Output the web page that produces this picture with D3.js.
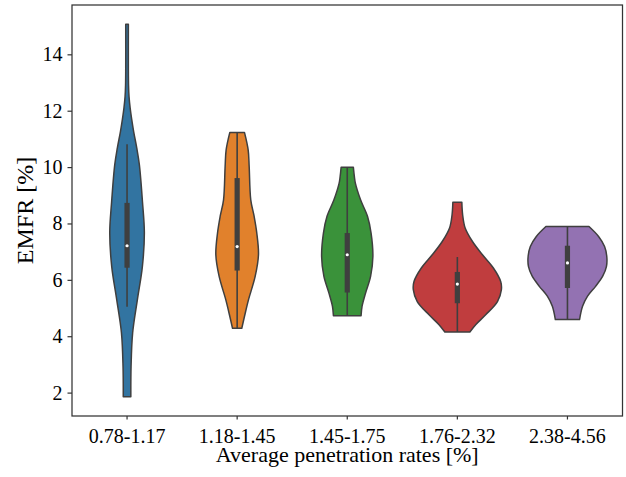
<!DOCTYPE html>
<html>
<head>
<meta charset="utf-8">
<script src="https://cdn.jsdelivr.net/npm/d3@7"></script>
<style>
  html, body { margin: 0; padding: 0; background: #fff; }
  svg { display: block; }
  text { font-family: "Liberation Serif", "Times New Roman", serif; fill: #000; }
</style>
</head>
<body>
<svg id="chart" width="626" height="477"></svg>
<script>
// ---- data ----
const categories = ["0.78-1.17", "1.18-1.45", "1.45-1.75", "1.76-2.32", "2.38-4.56"];
const colors = ["#3274a1", "#e1812c", "#3a923a", "#c03d3e", "#9372b2"];
const yTicks = [2, 4, 6, 8, 10, 12, 14];

// violin profiles: EMFR value and relative density (1 = widest violin)
const profileValues = [
  [15.07, 13.5, 12.9, 12.5, 12.1, 11.7, 11.26, 10.68, 10.08, 8.77, 7.67, 6.47, 5.29, 4.12, 2.92, 1.85],
  [11.23, 10.61, 10.02, 8.84, 8.25, 7.67, 6.89, 6.12, 5.29, 4.70, 4.28],
  [9.99, 9.67, 9.43, 8.84, 8.25, 7.66, 6.83, 6.12, 5.53, 5.06, 4.73],
  [8.75, 8.31, 7.84, 7.36, 6.89, 6.42, 5.94, 5.65, 5.23, 4.76, 4.41, 4.15],
  [7.89, 7.53, 7.18, 6.83, 6.48, 6.12, 5.77, 5.42, 5.06, 4.59]
];
const profileDensity = [
  [0.030, 0.030, 0.034, 0.045, 0.070, 0.105, 0.150, 0.220, 0.280, 0.350, 0.393, 0.348, 0.234, 0.127, 0.091, 0.086],
  [0.166, 0.250, 0.273, 0.309, 0.386, 0.445, 0.484, 0.409, 0.257, 0.166, 0.105],
  [0.139, 0.161, 0.184, 0.302, 0.461, 0.541, 0.582, 0.530, 0.416, 0.336, 0.314],
  [0.102, 0.120, 0.177, 0.343, 0.570, 0.818, 0.984, 1.000, 0.911, 0.643, 0.416, 0.284],
  [0.489, 0.711, 0.843, 0.893, 0.886, 0.798, 0.639, 0.457, 0.343, 0.275]
];
// box statistics
const q1 = [6.43, 6.33, 5.55, 5.17, 5.71];
const medians = [7.21, 7.18, 6.89, 5.85, 6.60];
const q3 = [8.73, 9.61, 7.66, 6.28, 7.21];
const whiskerLow = [5.05, 4.28, 4.73, 4.15, 4.59];
const whiskerHigh = [10.81, 11.23, 9.99, 6.81, 7.89];

const xLabel = "Average penetration rates [%]";
const yLabel = "EMFR [%]";

// ---- layout ----
const svg = d3.select("#chart");
const mLeft = 72, mRight = 622.5, mTop = 5, mBottom = 416;

const x = d3.scaleBand().domain(categories).range([mLeft, mRight]).padding(0);
const y = d3.scaleLinear().domain([1.17, 15.75]).range([mBottom, mTop]);
const w = d3.scaleLinear().domain([0, 1]).range([0, x.bandwidth() * 0.4]);

const gray = "#3f3f3f";

categories.forEach((c, i) => {
  const cx = x(c) + x.bandwidth() / 2;
  const pts = profileValues[i].map((v, j) => ({ v, d: profileDensity[i][j] }));
  const area = d3.area()
    .y(p => y(p.v))
    .x0(p => cx - w(p.d))
    .x1(p => cx + w(p.d))
    .curve(d3.curveCatmullRom.alpha(0.5));
  svg.append("path")
    .attr("d", area(pts))
    .attr("fill", colors[i])
    .attr("stroke", gray)
    .attr("stroke-width", 1.5)
    .attr("stroke-linejoin", "round");
  // whisker
  svg.append("line")
    .attr("x1", cx).attr("x2", cx)
    .attr("y1", y(whiskerLow[i])).attr("y2", y(whiskerHigh[i]))
    .attr("stroke", gray).attr("stroke-width", 1.6);
  // box
  svg.append("line")
    .attr("x1", cx).attr("x2", cx)
    .attr("y1", y(q1[i])).attr("y2", y(q3[i]))
    .attr("stroke", gray).attr("stroke-width", 5.2);
  // median
  svg.append("circle")
    .attr("cx", cx).attr("cy", y(medians[i]))
    .attr("r", 1.6)
    .attr("fill", "#fff");
});

// axes
const yAxis = d3.axisLeft(y).tickValues(yTicks).tickSize(4.5).tickPadding(5).tickFormat(d3.format("d"));
const gy = svg.append("g").attr("transform", `translate(${mLeft},0)`).call(yAxis);
gy.select(".domain").remove();
gy.selectAll(".tick line").attr("stroke", "#333").attr("stroke-width", 1.2);
gy.selectAll(".tick text").attr("font-size", 20).attr("font-family", "Liberation Serif").attr("fill", "#000");

const xAxis = d3.axisBottom(x).tickSize(3.5).tickPadding(6);
const gx = svg.append("g").attr("transform", `translate(0,${mBottom})`).call(xAxis);
gx.select(".domain").remove();
gx.selectAll(".tick line").attr("stroke", "#333").attr("stroke-width", 1.2);
gx.selectAll(".tick text").attr("font-size", 20).attr("font-family", "Liberation Serif").attr("fill", "#000")
  .attr("dy", null).attr("y", 26.5);

// frame
svg.append("rect")
  .attr("x", mLeft).attr("y", mTop)
  .attr("width", mRight - mLeft).attr("height", mBottom - mTop)
  .attr("fill", "none").attr("stroke", "#333").attr("stroke-width", 1.25);

// labels
svg.append("text")
  .attr("x", (mLeft + mRight) / 2).attr("y", 462)
  .attr("text-anchor", "middle").attr("font-size", 22)
  .text(xLabel);
svg.append("text")
  .attr("transform", `translate(32.5,${(mTop + mBottom) / 2}) rotate(-90)`)
  .attr("text-anchor", "middle").attr("font-size", 24)
  .text(yLabel);
</script>
</body>
</html>
